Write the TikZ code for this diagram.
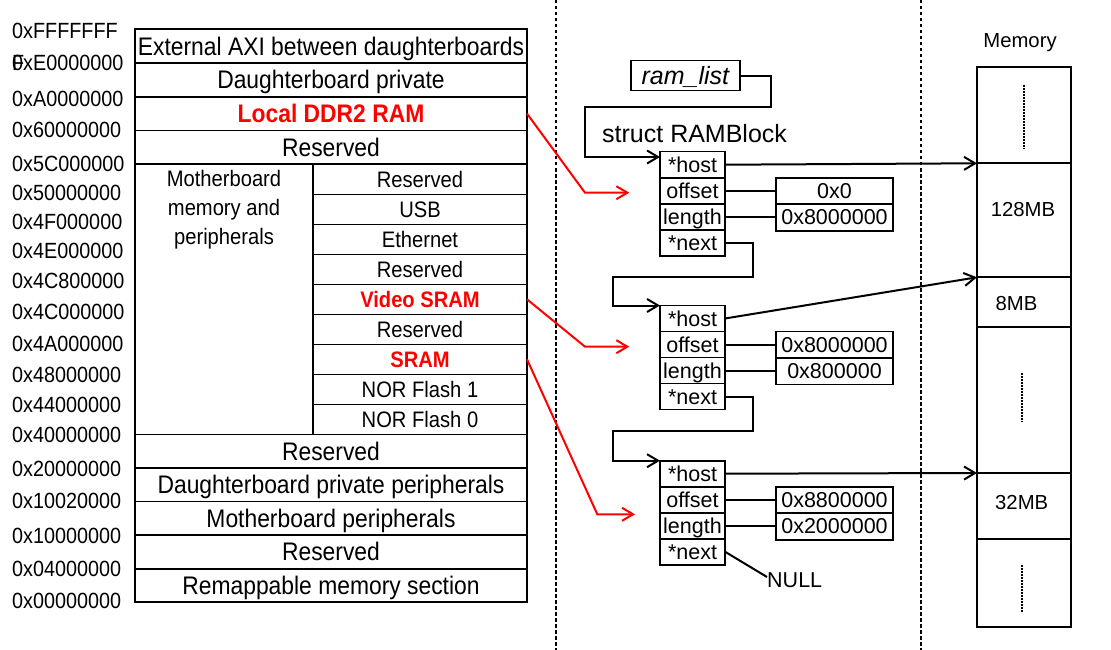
\documentclass[tikz,border=0pt]{standalone}
\usepackage{fontspec}
\setmainfont{Liberation Sans}
\newfontfamily\mapfamily{Liberation Sans}[FakeStretch=0.9]
\usetikzlibrary{arrows.meta}

\newcommand{\mapbig}{\mapfamily\fontsize{25.4}{30}\selectfont}
\newcommand{\mapsmall}{\mapfamily\fontsize{22.4}{29}\selectfont}
\newcommand{\addrsize}{\mapfamily\fontsize{22}{32}\selectfont}
\newcommand{\fieldsize}{\fontsize{21.5}{25}\selectfont}
\newcommand{\memsize}{\fontsize{20.3}{24}\selectfont}
\newcommand{\structsize}{\fontsize{25}{30}\selectfont}

\tikzset{
  maprow/.style={draw, line width=1.6pt, minimum width=392pt, minimum height=33.7pt,
    inner sep=0pt, outer sep=0pt, anchor=north west, font=\mapbig, text height=17.8pt, text depth=0pt},
  subrow/.style={draw, line width=1.6pt, minimum width=214pt, minimum height=30pt,
    inner sep=0pt, outer sep=0pt, anchor=north west, font=\mapsmall, text height=15.7pt, text depth=0pt},
  subplain/.style={},
  subhot/.style={text=red, font=\mapsmall\bfseries},
  addr/.style={anchor=west, inner sep=0pt, font=\addrsize, text height=15.4pt, text depth=0pt},
  field/.style={draw, line width=1.6pt, minimum width=65pt, minimum height=26pt,
    inner sep=0pt, outer sep=0pt, anchor=north west, font=\fieldsize, text height=15pt, text depth=0pt},
  valbox/.style={draw, line width=1.6pt, minimum width=117pt, minimum height=26.5pt,
    inner sep=0pt, outer sep=0pt, anchor=north west, font=\fieldsize, text height=15pt, text depth=0pt},
  memcell/.style={draw, line width=2pt, minimum width=94pt, inner sep=0pt, outer sep=0pt,
    anchor=north west},
  link/.style={line width=2pt},
  ptr/.style={link, -{Straight Barb[length=11pt,width=13pt]}},
  redptr/.style={ptr, red},
  sepline/.style={line width=2pt, dash pattern=on 3.5pt off 2.5pt},
  gapmark/.style={line width=2pt, dash pattern=on 2pt off 1pt},
}

\begin{document}
\begin{tikzpicture}[x=1pt,y=-1pt]
    \useasboundingbox (0,0) rectangle (1111,650);

    % Separators
    \draw[sepline] (556,0) -- (556,650);
    \draw[sepline] (921,0) -- (921,650);

    % Physical memory map
    \foreach \i/\y/\t in {1/29.3/External AXI between daughterboards,
        2/63.05/Daughterboard private, 4/130.55/Reserved}
        \node[maprow] (row\i) at (135,\y) {\t};
    \node[maprow, text=red, font=\mapbig\bfseries] (ddr) at (135,96.8) {Local DDR2 RAM};

    \node[draw, line width=1.6pt, minimum width=178pt, minimum height=270pt,
        inner sep=0pt, outer sep=0pt, anchor=north west] (mb) at (135,164.3) {};
    \node[font=\mapsmall, align=center, anchor=north, inner sep=0pt] (mbtext) at (224,170)
        {Motherboard\\memory and\\peripherals};
    \foreach \t/\s [count=\k from 0] in {Reserved/subplain, USB/subplain, Ethernet/subplain,
        Reserved/subplain, Video SRAM/subhot, Reserved/subplain, SRAM/subhot,
        NOR Flash 1/subplain, NOR Flash 0/subplain}
        \node[subrow, \s] (sub\k) at (313,164.3+30*\k) {\t};

    \foreach \i/\y/\t in {5/434.3/Reserved, 6/467.9/Daughterboard private peripherals,
        7/501.5/Motherboard peripherals, 8/535.1/Reserved, 9/568.7/Remappable memory section}
        \node[maprow] (row\i) at (135,\y) {\t};
    \draw[line width=2pt] (row1.north west) rectangle (row9.south east);

    % Addresses
    \node[font=\addrsize, align=left, anchor=base west, inner sep=0pt] (addrtop) at (12,70.7)
        {0xFFFFFFF\\F};
    \foreach \y/\t [count=\k] in {63.3/0xE0000000, 98.5/0xA0000000, 129.5/0x60000000,
        163.5/0x5C000000, 192.7/0x50000000, 221.7/0x4F000000, 250.5/0x4E000000,
        280.5/0x4C800000, 311.7/0x4C000000, 344/0x4A000000, 375/0x48000000,
        405/0x44000000, 435/0x40000000, 468.3/0x20000000, 500.5/0x10020000,
        535.7/0x10000000, 568.3/0x04000000, 601/0x00000000}
        \node[addr] (addr\k) at (12,\y) {\t};

    % RAMBlock list
    \node[draw, line width=1.6pt, minimum width=109pt, minimum height=30pt, inner sep=0pt,
        font=\structsize\itshape, text height=17.5pt, text depth=0pt] (ramlist) at (685.3,75.7) {ram\_list};
    \node[font=\structsize, anchor=west, inner sep=0pt, text height=17.5pt, text depth=0pt]
        (rbtitle) at (602,133.3) {struct RAMBlock};

    \foreach \k/\top/\a/\b in {1/151.7/0x0/0x8000000, 2/305.5/0x8000000/0x800000,
        3/460.7/0x8800000/0x2000000} {
        \node[field] (s\k-host) at (660,\top) {*host};
        \node[field] (s\k-off) at (s\k-host.south west) {offset};
        \node[field] (s\k-len) at (s\k-off.south west) {length};
        \node[field] (s\k-next) at (s\k-len.south west) {*next};
        \node[valbox] (v\k-off) at (776,\top+26) {\a};
        \node[valbox] (v\k-len) at (v\k-off.south west) {\b};
        \draw[link] (s\k-off.east) -- (s\k-off.east -| v\k-off.west);
        \draw[link] (s\k-len.east) -- (s\k-len.east -| v\k-len.west);
    }
    \node[font=\fieldsize, anchor=west, inner sep=0pt] (null) at (767,580) {NULL};

    \draw[ptr] (ramlist.east) -| (771,107) -| ([xshift=-75pt,yshift=-5.3pt]s1-host.north west)
        -- ([yshift=-5.3pt]s1-host.north west);
    \draw[ptr] (s1-next.east) -| (753.3,277.3) -| ([xshift=-47pt]s2-host.north west)
        -- (s2-host.north west);
    \draw[ptr] (s2-next.east) -| (753.3,430.7) -| ([xshift=-47pt]s3-host.north west)
        -- (s3-host.north west);
    \draw[link] (s3-next.east) -- ([yshift=3pt]null.west);

    % Host memory
    \node[font=\memsize] (memtitle) at (1020,43) {Memory};
    \node[memcell, minimum height=96.6pt] (m1) at (977,66.7) {};
    \node[memcell, minimum height=114pt] (m2) at (m1.south west) {};
    \node[memcell, minimum height=49.3pt] (m3) at (m2.south west) {};
    \node[memcell, minimum height=146.4pt] (m4) at (m3.south west) {};
    \node[memcell, minimum height=66.4pt] (m5) at (m4.south west) {};
    \node[memcell, minimum height=87.2pt] (m6) at (m5.south west) {};
    \node[font=\memsize] (sz128) at (1023,209.5) {128MB};
    \node[font=\memsize] (sz8) at (1016.5,304) {8MB};
    \node[font=\memsize] (sz32) at (1021.7,503) {32MB};
    \draw[gapmark] (1024.3,85) -- (1024.3,149.4);
    \draw[gapmark] (1021.7,373.4) -- (1021.7,422);
    \draw[gapmark] (1021.7,565) -- (1021.7,613);

    \draw[ptr] (s1-host.east) -- (m2.north west);
    \draw[ptr] (s2-host.east) -- (m3.north west);
    \draw[ptr] (s3-host.east) -- (m5.north west);

    % Mapped regions
    \coordinate (ddrtip) at (629.3,192.7);
    \coordinate (vsramtip) at (629.3,346.7);
    \coordinate (sramtip) at (635,514.3);
    \draw[redptr] (ddr.east) -- ([xshift=-44.3pt]ddrtip) -- (ddrtip);
    \draw[redptr] (sub4.east) -- ([xshift=-44.3pt]vsramtip) -- (vsramtip);
    \draw[redptr] (sub6.east) -- ([xshift=-37.7pt]sramtip) -- (sramtip);
\end{tikzpicture}
\end{document}
